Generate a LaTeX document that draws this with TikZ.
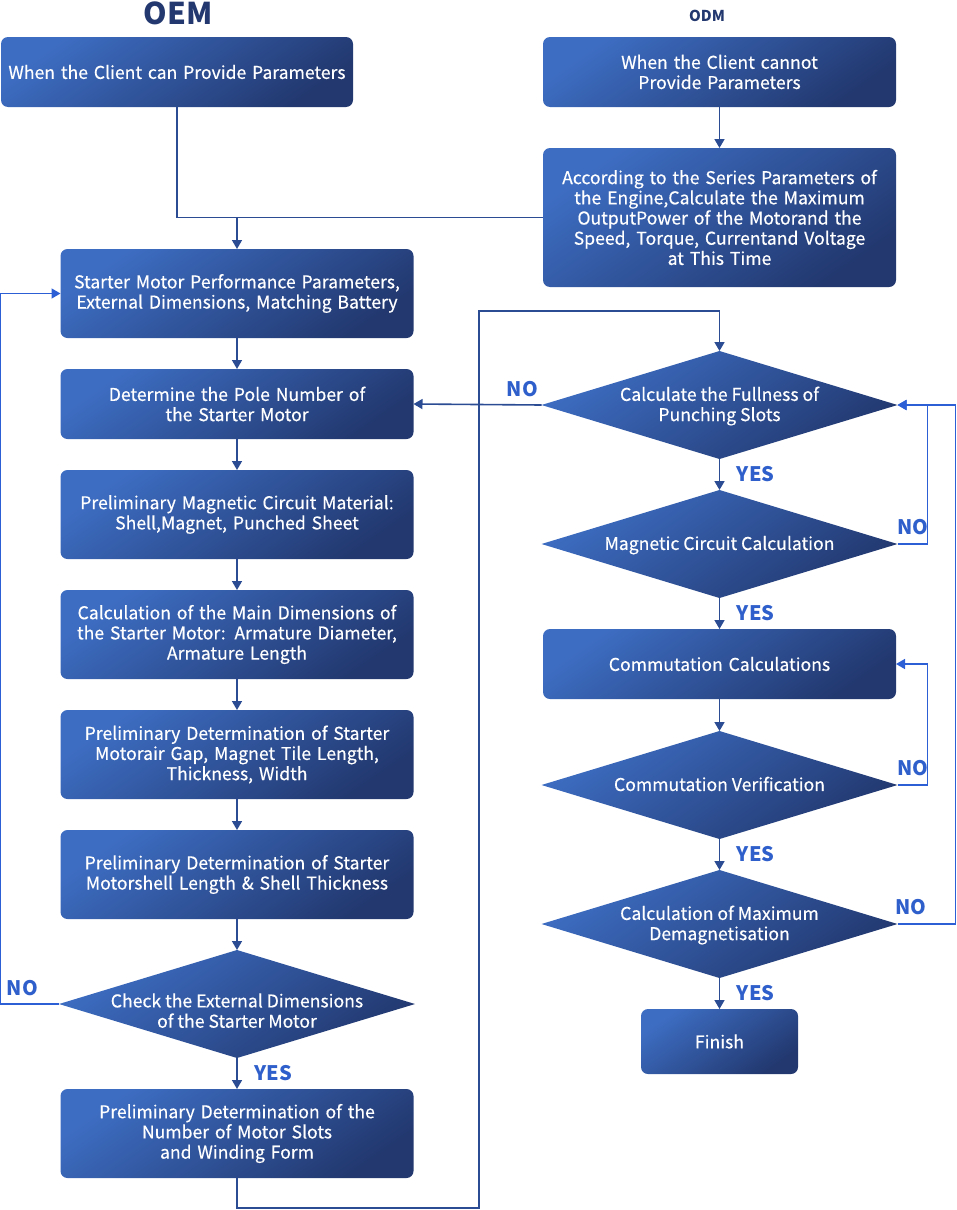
\documentclass[tikz,border=0pt]{standalone}
\usepackage{fontspec}
\setmainfont{Noto Sans CJK SC}[UprightFeatures={FakeBold=0.4}]
\usetikzlibrary{positioning, arrows.meta, shapes.geometric}
\definecolor{boxlight}{HTML}{3D6DC2}
\definecolor{boxdark}{HTML}{22386F}
\definecolor{flowline}{HTML}{2B4B92}
\definecolor{loopline}{HTML}{2C5FD6}
\definecolor{answer}{HTML}{2E5FCB}
\newcommand{\dtext}[2][3.2pt]{\makebox[0pt]{\smash{\raisebox{-#1}{\begin{tabular}{@{}c@{}}#2\end{tabular}}}}}
\tikzset{
>={Triangle[length=4.5pt, width=5pt]}, % small solid arrow heads
node distance=15.5pt, % gap between two boxes of one column
stepbox/.style={rectangle, rounded corners=3.5pt, left color=boxlight, right color=boxdark, shading angle=35,
  text=white, text width=172pt, align=center, minimum width=176.5pt, minimum height=35pt, inner sep=2pt,
  outer sep=0pt, font=\fontsize{8.8}{10.1}\selectfont},
tallbox/.style={stepbox, minimum height=44.5pt},
decision/.style={diamond, aspect=3.27, left color=boxlight, right color=boxdark, shading angle=35,
  text=white, minimum width=178pt, minimum height=54pt, inner sep=0pt, outer sep=0pt,
  font=\fontsize{8.8}{10.1}\selectfont},
flow/.style={draw=flowline, line width=0.8pt, ->},
loop/.style={draw=loopline, line width=0.8pt, ->},
answer/.style={text=answer, font=\bfseries\fontsize{10}{12}\selectfont},
}
\begin{document}
\begin{tikzpicture}[x=0.5pt, y=-0.5pt]
    \useasboundingbox (0,0) rectangle (957,1210);
    \node[text=boxdark, font=\bfseries\fontsize{15}{18}\selectfont] (oem) at (178,13) {OEM};
    \node[text=boxdark, font=\bfseries\fontsize{7.5}{9}\selectfont] (odm) at (707,16) {ODM};

    % OEM column
    \node[stepbox, minimum width=176pt] (client) at (177,72) {When the Client can Provide Parameters};
    \node[tallbox] (perf) at (237,293.5) {Starter Motor Performance Parameters,\\External Dimensions, Matching Battery};
    \node[stepbox, below=of perf] (pole) {Determine the Pole Number of\\the Starter Motor};
    \node[tallbox, below=of pole] (material) {Preliminary Magnetic Circuit Material:\\Shell,Magnet, Punched Sheet};
    \node[tallbox, below=of material] (maindim) {Calculation of the Main Dimensions of\\the Starter Motor: Armature Diameter,\\Armature Length};
    \node[tallbox, below=of maindim] (airgap) {Preliminary Determination of Starter\\Motorair Gap, Magnet Tile Length,\\Thickness, Width};
    \node[tallbox, below=of airgap] (shell) {Preliminary Determination of Starter\\Motorshell Length \& Shell Thickness};
    \node[decision, below=of shell] (check) {\dtext[7pt]{Check the External Dimensions\\of the Starter Motor}};
    \node[tallbox, below=of check] (slots) {Preliminary Determination of the\\Number of Motor Slots\\and Winding Form};

    % ODM column
    \node[stepbox] (noclient) at (719.5,72) {When the Client cannot\\Provide Parameters};
    \node[stepbox, below=20.5pt of noclient, minimum height=69.5pt] (series) {According to the Series Parameters of\\the Engine,Calculate the Maximum\\OutputPower of the Motorand the\\Speed, Torque, Currentand Voltage\\at This Time};
    \node[decision] (fullness) at (719.5,405) {\dtext{Calculate the Fullness of\\Punching Slots}};
    \node[decision, below=of fullness] (magnetic) {\dtext{Magnetic Circuit Calculation}};
    \node[stepbox, below=of magnetic] (commcalc) {Commutation Calculations};
    \node[decision, below=16pt of commcalc] (commver) {\dtext{Commutation Verification}};
    \node[decision, below=of commver] (demag) {\dtext{Calculation of Maximum\\Demagnetisation}};
    \node[stepbox, below=of demag, text width=72pt, minimum width=78.5pt, minimum height=32.5pt] (finish) {Finish};

    \coordinate (lowturn) at (479,1208);
    \coordinate (highturn) at (479,311);

    \draw[flow, -] (client.south) |- (series.west);
    \draw[flow] (perf.north |- series.west) -- (perf.north);
    \draw[flow] (noclient) -- (series);
    \draw[flow] (perf) -- (pole);
    \draw[flow] (pole) -- (material);
    \draw[flow] (material) -- (maindim);
    \draw[flow] (maindim) -- (airgap);
    \draw[flow] (airgap) -- (shell);
    \draw[flow] (shell) -- (check);
    \draw[flow] (check) -- node[answer, right=5pt] {YES} (slots);
    \draw[loop] (check.west) -- node[answer, pos=0.62, above=0.5pt] {NO} ++(-59,0) |- (perf.west);
    \draw[flow] (slots.south) |- (lowturn) -- (highturn) -| (fullness.north);

    \draw[flow] (fullness.west) -- node[answer, pos=0.15, above=0.5pt] {NO} (pole.east);
    \draw[flow] (fullness) -- node[answer, right=5pt] {YES} (magnetic);
    \draw[loop] (magnetic.east) -- node[answer, above=1pt] {NO} ++(30,0) |- (fullness.east);
    \draw[flow] (magnetic) -- node[answer, right=5pt] {YES} (commcalc);
    \draw[flow] (commcalc) -- (commver);
    \draw[loop] (commver.east) -- node[answer, above=1pt] {NO} ++(30,0) |- (commcalc.east);
    \draw[flow] (commver) -- node[answer, right=5pt] {YES} (demag);
    \draw[loop] (demag.east) -- node[answer, pos=0.23, above=1pt] {NO} ++(58,0) |- (fullness.east);
    \draw[flow] (demag) -- node[answer, right=5pt] {YES} (finish);
\end{tikzpicture}
\end{document}
